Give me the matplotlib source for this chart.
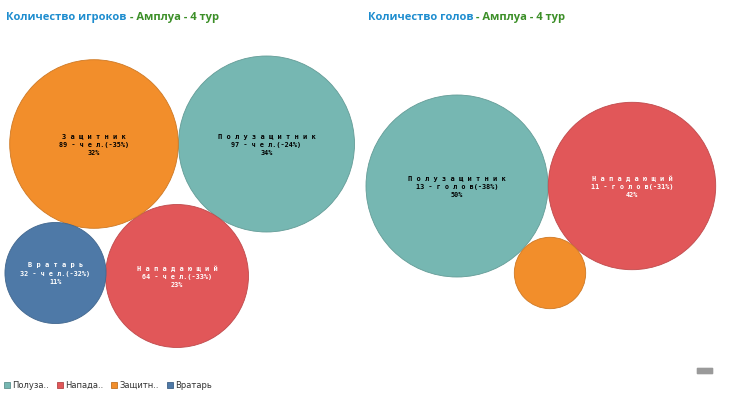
import numpy as np
import matplotlib
matplotlib.use("Agg")
import matplotlib.pyplot as plt
from matplotlib.patches import Circle, FancyBboxPatch
from matplotlib.lines import Line2D
import matplotlib.colors as mcolors

# ---------------- data ----------------
roles = ["Полузащитник", "Нападающий", "Защитник", "Вратарь"]
legend_labels = ["Полуза..", "Напада..", "Защитн..", "Вратарь"]
players = [97, 64, 89, 32]
players_change = [-24, -33, -35, -32]
players_share = [34, 23, 32, 11]
goals = [13, 11, 2, 0]
goals_change = [-38, -31, None, None]
goals_share = [50, 42, 8, 0]

title_left = ("Количество игроков", " - Амплуа - 4 тур")
title_right = ("Количество голов", " - Амплуа - 4 тур")

# ---------------- style / layout ----------------
colors = ["#76B7B2", "#E15759", "#F28E2B", "#4E79A7"]
text_colors = ["black", "white", "black", "white"]
left_centers = [(266.5, 144), (177, 276), (94, 144), (55.5, 273)]
right_centers = [(457, 186), (632, 186), (550, 273), None]
left_scale = 8.935    # px per sqrt(unit)
right_scale = 25.24

W, H = 730, 396
fig = plt.figure(figsize=(W / 100, H / 100), dpi=100)
ax = fig.add_axes([0, 0, 1, 1])
ax.set_xlim(0, W)
ax.set_ylim(H, 0)
ax.axis("off")


def spaced(s):
    return " ".join(s)


def draw_bubbles(values, changes, shares, centers, scale, unit):
    for i, v in enumerate(values):
        if v <= 0 or centers[i] is None:
            continue
        r = scale * np.sqrt(v)
        cx, cy = centers[i]
        edge = np.array(mcolors.to_rgb(colors[i])) * 0.85
        ax.add_patch(Circle((cx, cy), r, facecolor=colors[i], edgecolor=edge,
                            lw=0.6, zorder=2))
        if r > 45:
            tc = text_colors[i]
            ax.text(cx, cy - 7.5, spaced(roles[i]), ha="center", va="center",
                    fontsize=5.0, family="DejaVu Sans Mono", color=tc,
                    fontweight="semibold", zorder=3)
            ax.text(cx, cy + 0.8, f"{v} - {unit}({changes[i]}%)", ha="center",
                    va="center", fontsize=4.9, family="DejaVu Sans Mono",
                    fontweight="bold", color=tc, zorder=3)
            ax.text(cx, cy + 8.8, f"{shares[i]}%", ha="center", va="center",
                    fontsize=4.9, family="DejaVu Sans Mono", fontweight="bold",
                    color=tc, zorder=3)


draw_bubbles(players, players_change, players_share, left_centers, left_scale,
             "ч е л.")
draw_bubbles(goals, goals_change, goals_share, right_centers, right_scale,
             "г о л о в")


def draw_title(x, y, parts):
    t1 = ax.text(x, y, parts[0], ha="left", va="baseline", fontsize=8.0,
                 family="Open Sans", fontweight="bold", color="#1E8DCF")
    ax.annotate(parts[1], xy=(1, 0), xycoords=t1, xytext=(0, 0),
                textcoords="offset points", ha="left", va="bottom",
                fontsize=8.0, family="Open Sans", fontweight="bold",
                color="#3C8F28")


draw_title(6.5, 20, title_left)
draw_title(367.5, 20, title_right)

# legend
handles = []
for c in colors:
    edge = np.array(mcolors.to_rgb(c)) * 0.8
    handles.append(Line2D([], [], ls="none", marker="s", markersize=4.2,
                          markerfacecolor=c, markeredgecolor=edge,
                          markeredgewidth=0.6))
leg = ax.legend(handles, legend_labels, loc="center left",
                bbox_to_anchor=(4 / W, 1 - 385 / H), ncol=4, frameon=False,
                fontsize=6.0, handlelength=0.6, handletextpad=0.35,
                columnspacing=1.0, borderpad=0, borderaxespad=0)
for t in leg.get_texts():
    t.set_color("#333333")

# small badge bottom right
ax.add_patch(FancyBboxPatch((697, 368), 16, 6,
                            boxstyle="round,pad=0.3,rounding_size=1",
                            facecolor="#9a9a9a", edgecolor="none", zorder=2))

fig.savefig("out.png", dpi=100)
